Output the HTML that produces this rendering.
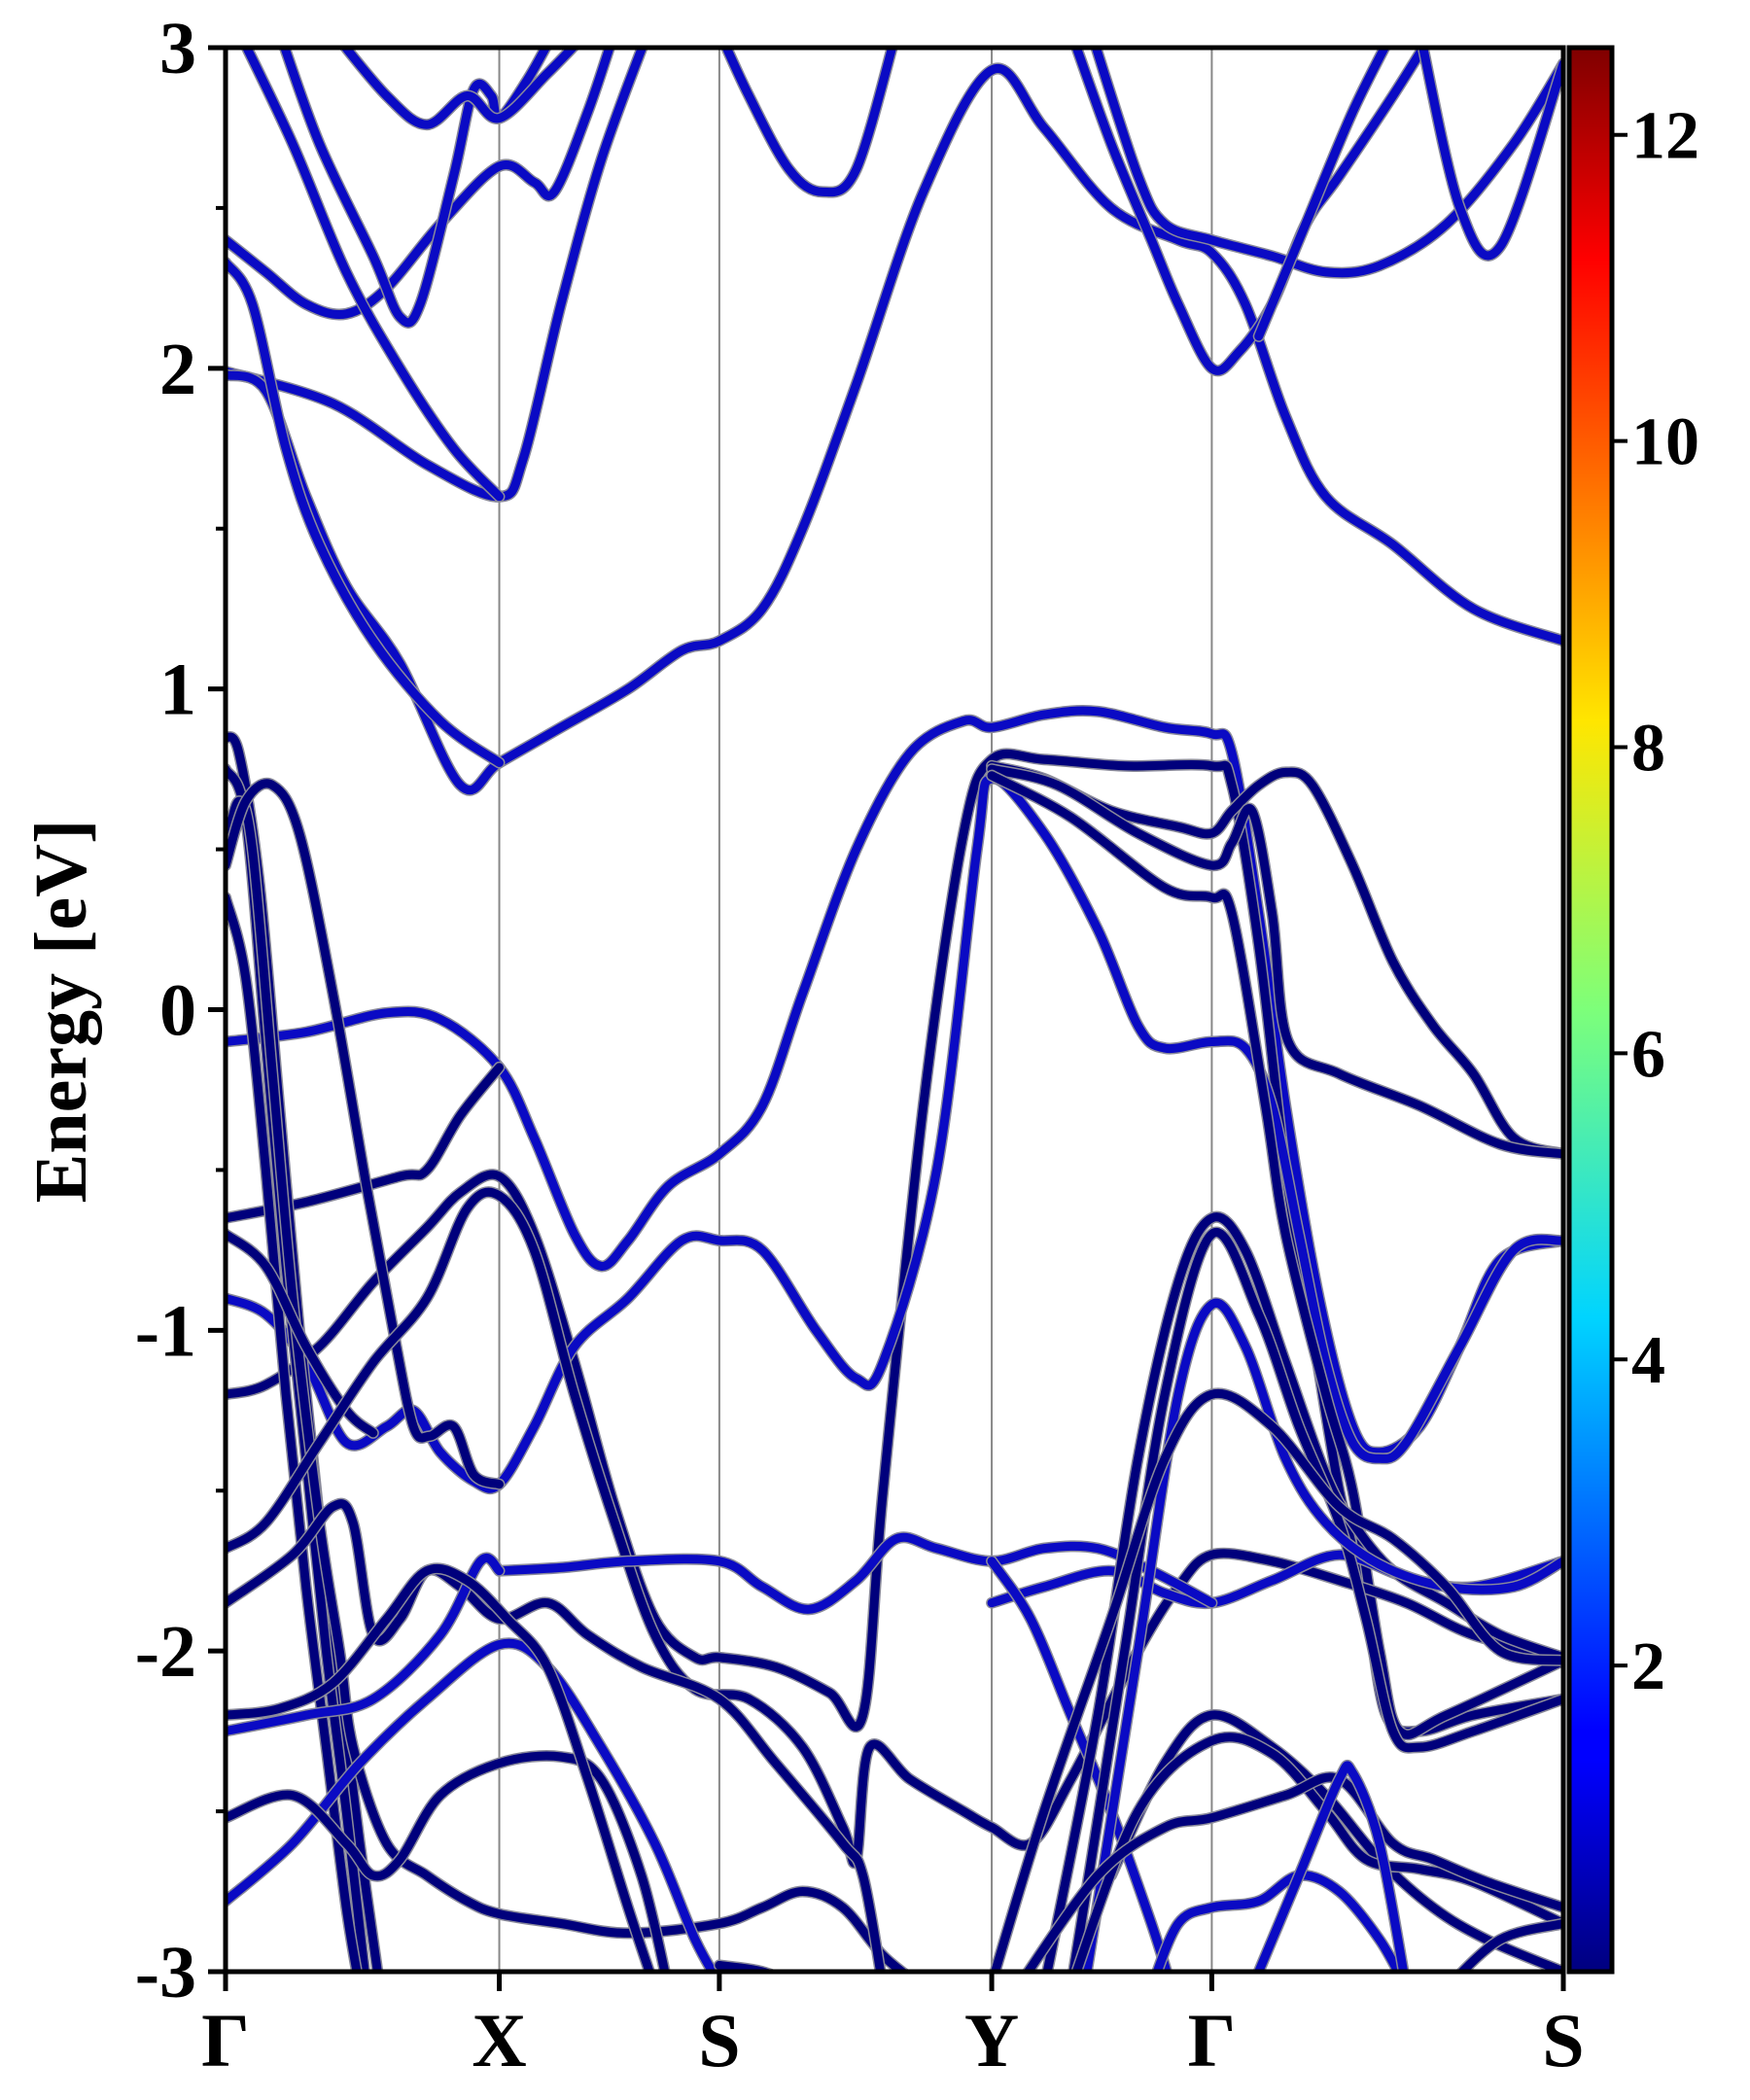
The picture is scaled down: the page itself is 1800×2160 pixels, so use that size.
<!DOCTYPE html>
<html><head><meta charset="utf-8"><style>
html,body{margin:0;padding:0;background:#fff;}
svg{display:block;}
text{font-family:"Liberation Serif","DejaVu Serif",serif;font-weight:bold;fill:#000;}
</style></head><body>
<svg id="chart" width="1800" height="2160" viewBox="0 0 1800 2160" xmlns="http://www.w3.org/2000/svg">
<defs>
<clipPath id="plotclip"><rect x="232" y="49" width="1376" height="1979"/></clipPath>
<linearGradient id="jet" x1="0" y1="1" x2="0" y2="0">
<stop offset="0" stop-color="#00007f"/><stop offset="0.11" stop-color="#0000ff"/><stop offset="0.125" stop-color="#0000ff"/>
<stop offset="0.34" stop-color="#00d4ff"/><stop offset="0.5" stop-color="#7dff7a"/><stop offset="0.65" stop-color="#ffe600"/>
<stop offset="0.89" stop-color="#ff0000"/><stop offset="1" stop-color="#7f0000"/>
</linearGradient>
</defs>
<g id="kpath-lines"></g>
<g id="bands" clip-path="url(#plotclip)"></g>
<rect x="232" y="49" width="1376" height="1979" fill="none" stroke="#000" stroke-width="5"/>
<g id="yaxis"></g>
<g id="xaxis"></g>
<text x="0" y="0" font-size="76" text-anchor="middle" transform="translate(88,1040) rotate(-90)">Energy [eV]</text>
<rect x="1614" y="49" width="44" height="1979" fill="url(#jet)" stroke="#000" stroke-width="5"/>
<g id="cbaxis"></g>
</svg>
<script>
const kTicks=[170,374,538,741,905,1167];
const kLabels=["Γ","X","S","Y","Γ","S"];
const eTicks=[-3,-2,-1,0,1,2,3];
const eMinorTicks=[-2.5,-1.5,-0.5,0.5,1.5,2.5];
const cbTicks=[2,4,6,8,10,12];
const cbRange=[0,12.57];
const bandColors=["#00007c","#0a0ac4"];
const bandK=[];const bandE=[];const bandTone=[];
function B(tone,pts){bandTone.push(tone);bandK.push(pts.map(p=>p[0]));bandE.push(pts.map(p=>p[1]));}
// conduction
B(1,[[170,1.99],[250,1.89],[320,1.7],[374,1.6],[392,1.72],[420,2.2],[450,2.65],[485,3.05]]);
B(1,[[170,1.98],[200,1.93],[230,1.6],[260,1.32],[300,1.08],[345,0.7],[374,0.77],[420,0.88],[470,1.0],[510,1.12],[538,1.15],[570,1.25],[600,1.5],[640,1.95],[690,2.55],[741,2.93],[780,2.75],[830,2.5],[880,2.4],[905,2.36],[930,2.2],[960,1.85],[990,1.6],[1040,1.45],[1100,1.25],[1167,1.15]]);
B(1,[[170,2.33],[190,2.2],[215,1.75],[240,1.45],[280,1.15],[330,0.9],[374,0.77]]);
B(1,[[170,2.4],[200,2.3],[230,2.2],[260,2.17],[290,2.25],[330,2.45],[374,2.63],[400,2.58],[415,2.55],[440,2.8],[460,3.05]]);
B(1,[[210,3.05],[240,2.7],[280,2.35],[300,2.16],[315,2.2],[340,2.6],[355,2.87],[368,2.85],[374,2.78],[395,2.9],[415,3.05]]);
B(1,[[180,3.05],[220,2.7],[260,2.3],[300,2.0],[340,1.75],[374,1.6]]);
B(1,[[250,3.05],[290,2.85],[320,2.76],[350,2.85],[374,2.78],[410,2.92],[440,3.05]]);
B(1,[[538,3.05],[560,2.85],[590,2.62],[615,2.55],[640,2.62],[670,3.05]]);
B(1,[[800,3.05],[830,2.7],[860,2.4],[880,2.2],[905,2.0],[925,2.05],[950,2.2],[975,2.45],[1000,2.6],[1040,2.85],[1070,3.05]]);
B(1,[[815,3.05],[850,2.6],[870,2.45],[905,2.4],[950,2.35],[990,2.3],[1030,2.32],[1080,2.45],[1130,2.7],[1167,2.95]]);
B(1,[[940,2.1],[975,2.45],[1010,2.8],[1040,3.05]]);
B(1,[[1060,3.05],[1090,2.5],[1120,2.38],[1167,2.95]]);
// valence
B(1,[[170,-0.1],[230,-0.07],[290,-0.01],[330,-0.03],[374,-0.18],[400,-0.4],[430,-0.7],[450,-0.8],[470,-0.72],[500,-0.55],[538,-0.45],[570,-0.3],[600,0.05],[640,0.5],[680,0.8],[720,0.9],[741,0.88],[780,0.92],[820,0.93],[870,0.88],[905,0.86],[920,0.8],[940,0.3],[960,-0.3],[985,-0.9],[1010,-1.3],[1030,-1.38],[1060,-1.3],[1090,-1.05],[1120,-0.78],[1167,-0.72]]);
B(0,[[170,-0.65],[230,-0.6],[300,-0.52],[320,-0.5],[345,-0.33],[374,-0.18]]);
B(0,[[170,-1.2],[200,-1.17],[240,-1.05],[280,-0.85],[320,-0.68],[345,-0.57],[374,-0.52],[400,-0.7],[430,-1.1],[460,-1.55],[490,-1.9],[520,-2.02],[538,-2.02],[580,-2.05],[620,-2.13],[645,-2.2],[660,-1.5],[690,-0.3],[720,0.55],[741,0.78],[780,0.78],[840,0.76],[905,0.76],[920,0.7],[940,0.2],[960,-0.5],[980,-1.0],[1000,-1.5],[1020,-1.85],[1035,-2.2],[1060,-2.25],[1100,-2.2],[1167,-2.15]]);
B(1,[[170,-0.9],[200,-0.95],[230,-1.1],[260,-1.35],[290,-1.3],[310,-1.25],[330,-1.38],[355,-1.47],[374,-1.48],[400,-1.3],[430,-1.05],[470,-0.9],[510,-0.72],[538,-0.72],[570,-0.75],[610,-1.0],[640,-1.15],[660,-1.1],[700,-0.5],[730,0.5],[741,0.72],[780,0.55],[820,0.25],[850,-0.05],[870,-0.12],[905,-0.1],[930,-0.12],[950,-0.3],[970,-0.7],[990,-1.1],[1010,-1.35],[1030,-1.4],[1050,-1.35],[1090,-1.05],[1130,-0.75],[1167,-0.72]]);
B(0,[[741,0.76],[780,0.72],[830,0.62],[880,0.57],[905,0.55],[920,0.62],[940,0.7],[960,0.74],[980,0.7],[1010,0.45],[1040,0.15],[1070,-0.05],[1100,-0.2],[1130,-0.4],[1167,-0.45]]);
B(0,[[741,0.75],[790,0.7],[850,0.55],[905,0.45],[920,0.52],[935,0.62],[950,0.3],[962,-0.1],[1000,-0.2],[1060,-0.3],[1120,-0.42],[1167,-0.45]]);
B(0,[[741,0.73],[800,0.6],[870,0.38],[905,0.35],[920,0.3],[945,-0.3],[960,-0.7],[990,-1.2],[1010,-1.5],[1030,-2.0],[1045,-2.25],[1080,-2.2],[1167,-2.03]]);
B(0,[[170,0.85],[180,0.8],[195,0.4],[210,-0.3],[225,-1.0],[240,-1.6],[255,-2.1],[270,-2.6],[285,-3.05]]);
B(0,[[170,0.75],[185,0.6],[200,-0.1],[215,-0.8],[230,-1.4],[245,-2.0],[260,-2.5],[275,-3.05]]);
B(0,[[170,0.5],[180,0.65],[190,0.5],[205,-0.2],[220,-0.9],[240,-1.6],[255,-2.0],[265,-2.3],[290,-2.6],[320,-2.7],[350,-2.78],[374,-2.82],[420,-2.85],[470,-2.88],[538,-2.85],[570,-2.8],[600,-2.75],[630,-2.8],[660,-2.95],[690,-3.05]]);
B(0,[[170,0.45],[185,0.65],[205,0.7],[225,0.55],[250,0.05],[275,-0.55],[295,-1.0],[310,-1.3],[322,-1.33],[340,-1.3],[355,-1.45],[374,-1.48]]);
B(0,[[170,0.35],[185,0.1],[200,-0.5],[215,-1.2],[230,-1.8],[245,-2.3],[260,-2.8],[270,-3.05]]);
B(0,[[170,-0.7],[200,-0.8],[230,-1.05],[260,-1.25],[280,-1.32]]);
B(0,[[170,-1.68],[200,-1.6],[240,-1.35],[280,-1.1],[320,-0.9],[350,-0.62],[374,-0.58],[400,-0.75],[430,-1.2],[460,-1.6],[490,-1.95],[520,-2.12],[560,-2.15],[600,-2.3],[630,-2.55],[640,-2.65],[650,-2.3],[680,-2.4],[720,-2.5],[741,-2.55],[770,-2.6],[800,-2.4],[850,-2.0],[880,-1.8],[905,-1.7],[950,-1.72],[1000,-1.78],[1050,-1.85],[1100,-1.95],[1167,-2.02]]);
B(0,[[170,-1.85],[220,-1.7],[250,-1.55],[265,-1.6],[280,-1.95],[300,-1.9],[320,-1.75],[345,-1.8],[374,-1.9],[410,-1.85],[440,-1.95],[480,-2.05],[538,-2.15],[580,-2.35],[630,-2.6],[645,-2.7],[660,-3.05]]);
B(1,[[741,-1.85],[780,-1.8],[830,-1.75],[870,-1.82],[905,-1.85],[950,-1.78],[1000,-1.7],[1050,-1.77],[1100,-1.8],[1167,-1.72]]);
B(1,[[374,-1.75],[420,-1.74],[470,-1.72],[538,-1.72],[570,-1.8],[605,-1.87],[640,-1.78],[670,-1.65],[700,-1.68],[741,-1.72],[780,-1.68],[820,-1.68],[860,-1.75],[905,-1.85]]);
B(1,[[170,-2.78],[220,-2.6],[270,-2.35],[320,-2.15],[374,-1.98],[410,-2.05],[450,-2.3],[490,-2.6],[520,-2.9],[540,-3.05]]);
B(1,[[170,-2.25],[230,-2.2],[280,-2.15],[330,-1.95],[360,-1.72],[374,-1.75]]);
B(1,[[741,-1.72],[770,-1.9],[800,-2.2],[830,-2.5],[860,-2.85],[875,-3.05]]);
B(0,[[780,-3.05],[820,-2.2],[850,-1.4],[880,-0.85],[905,-0.65],[930,-0.75],[960,-1.1],[990,-1.45],[1010,-1.6],[1040,-1.75],[1080,-1.85],[1120,-1.95],[1167,-2.02]]);
B(0,[[800,-3.05],[840,-2.0],[870,-1.2],[905,-0.7],[940,-0.95],[970,-1.3],[1000,-1.6],[1020,-1.9],[1040,-2.25],[1060,-2.3],[1100,-2.25],[1167,-2.15]]);
B(1,[[810,-3.05],[850,-2.0],[880,-1.2],[905,-0.92],[930,-1.05],[960,-1.4],[990,-1.6],[1030,-1.73],[1080,-1.8],[1130,-1.8],[1167,-1.72]]);
B(0,[[740,-3.05],[780,-2.5],[830,-1.9],[870,-1.4],[905,-1.2],[950,-1.3],[1000,-1.55],[1040,-1.65],[1080,-1.8],[1120,-2.0],[1167,-2.03]]);
B(0,[[830,-2.7],[870,-2.35],[905,-2.2],[950,-2.3],[990,-2.45],[1030,-2.65],[1070,-2.8],[1110,-2.9],[1167,-3.0]]);
B(0,[[800,-3.05],[850,-2.5],[905,-2.28],[950,-2.32],[990,-2.5],[1020,-2.65],[1060,-2.68],[1100,-2.72],[1167,-2.85]]);
B(0,[[760,-3.05],[820,-2.7],[870,-2.55],[905,-2.52],[960,-2.45],[1000,-2.4],[1040,-2.6],[1070,-2.65],[1110,-2.72],[1167,-2.8]]);
B(1,[[860,-3.05],[880,-2.85],[905,-2.8],[940,-2.78],[970,-2.7],[1000,-2.75],[1030,-2.9],[1050,-3.05]]);
B(1,[[935,-3.05],[970,-2.7],[1000,-2.4],[1010,-2.38],[1030,-2.6],[1050,-3.05]]);
B(0,[[170,-2.52],[220,-2.45],[260,-2.6],[280,-2.7],[300,-2.65],[330,-2.45],[374,-2.35],[420,-2.33],[450,-2.4],[480,-2.7],[500,-3.05]]);
B(0,[[170,-2.2],[210,-2.18],[250,-2.1],[290,-1.9],[320,-1.75],[350,-1.78],[380,-1.9],[410,-2.05],[440,-2.4],[470,-2.8],[490,-3.05]]);
B(0,[[538,-2.98],[570,-3.0],[600,-3.05]]);
B(0,[[1080,-3.05],[1120,-2.9],[1167,-2.85]]);

const X0=232,X1=1608,Y0=49,Y1=2028;
const kMin=kTicks[0],kMax=kTicks[kTicks.length-1],eMin=-3,eMax=3;
function xs(k){return X0+(k-kMin)/(kMax-kMin)*(X1-X0);}
function ys(e){return Y1-(e-eMin)/(eMax-eMin)*(Y1-Y0);}
const NS="http://www.w3.org/2000/svg";
function mk(tag,attrs,parent){const el=document.createElementNS(NS,tag);for(const a in attrs)el.setAttribute(a,attrs[a]);parent.appendChild(el);return el;}
function smooth(px){let d="M"+px[0][0].toFixed(1)+","+px[0][1].toFixed(1);
 for(let i=0;i<px.length-1;i++){const p0=px[Math.max(0,i-1)],p1=px[i],p2=px[i+1],p3=px[Math.min(px.length-1,i+2)];
 const c1=[p1[0]+(p2[0]-p0[0])/6,p1[1]+(p2[1]-p0[1])/6],c2=[p2[0]-(p3[0]-p1[0])/6,p2[1]-(p3[1]-p1[1])/6];
 d+=" C"+c1[0].toFixed(1)+","+c1[1].toFixed(1)+" "+c2[0].toFixed(1)+","+c2[1].toFixed(1)+" "+p2[0].toFixed(1)+","+p2[1].toFixed(1);}
 return d;}
const kl=document.getElementById('kpath-lines');
for(let i=1;i<kTicks.length-1;i++){
 const ln=mk('line',{x1:xs(kTicks[i]),x2:xs(kTicks[i]),y1:Y0,y2:Y1,stroke:'#888',"stroke-width":2},kl);
 
 
}
const bg=document.getElementById('bands');
for(let b=0;b<bandK.length;b++){
 const px=bandK[b].map((k,i)=>[xs(k),ys(bandE[b][i])]);
 const d=smooth(px);
 const g=mk('g',{},bg);
 
 
 mk('path',{d:d,fill:'none',stroke:'#8a8a9a',"stroke-width":12,"stroke-linecap":"round"},g);
 mk('path',{d:d,fill:'none',stroke:bandColors[bandTone[b]],"stroke-width":9,"stroke-linecap":"round"},g);
}
const ya=document.getElementById('yaxis');
eTicks.forEach(e=>{
 const t=mk('line',{x1:X0-18,x2:X0,y1:ys(e),y2:ys(e),stroke:'#000',"stroke-width":5},ya);
 
 
 const tx=mk('text',{x:202,y:ys(e)+26,"font-size":76,"text-anchor":"end"},ya);
 
 
 tx.textContent=String(e);
});
eMinorTicks.forEach(e=>{
 const t=mk('line',{x1:X0-10,x2:X0,y1:ys(e),y2:ys(e),stroke:'#000',"stroke-width":4},ya);
 
 
});
const xa=document.getElementById('xaxis');
kTicks.forEach((k,i)=>{
 const t=mk('line',{x1:xs(k),x2:xs(k),y1:Y1,y2:Y1+20,stroke:'#000',"stroke-width":5},xa);
 
 
 const tx=mk('text',{x:xs(k),y:2125,"font-size":78,"text-anchor":"middle"},xa);
 
 
 tx.textContent=kLabels[i];
});
const ca=document.getElementById('cbaxis');
function cy(v){return Y1-(v-cbRange[0])/(cbRange[1]-cbRange[0])*(Y1-Y0);}
cbTicks.forEach(v=>{
 const t=mk('line',{x1:1658,x2:1674,y1:cy(v),y2:cy(v),stroke:'#000',"stroke-width":4},ca);
 
 
 const tx=mk('text',{x:1678,y:cy(v)+24,"font-size":70,"text-anchor":"start"},ca);
 
 
 tx.textContent=String(v);
});
</script>
</body></html>
